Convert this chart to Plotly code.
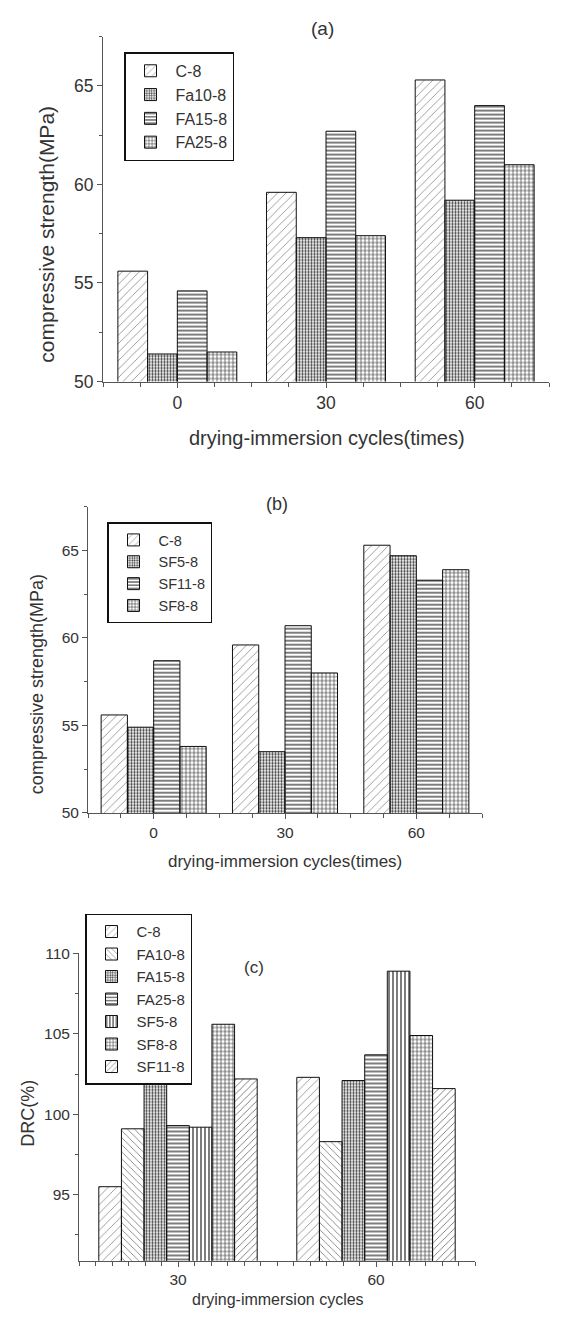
import plotly.graph_objects as go

W, H = 581, 1318

cycles_ab = ["0", "30", "60"]
cycles_c = ["30", "60"]

# Panel (a)
a_names = ["C-8", "Fa10-8", "FA15-8", "FA25-8"]
a_C8 = [55.6, 59.6, 65.3]
a_FA10 = [51.4, 57.3, 59.2]
a_FA15 = [54.6, 62.7, 64.0]
a_FA25 = [51.5, 57.4, 61.0]

# Panel (b)
b_names = ["C-8", "SF5-8", "SF11-8", "SF8-8"]
b_C8 = [55.6, 59.6, 65.3]
b_SF5 = [54.9, 53.5, 64.7]
b_SF11 = [58.7, 60.7, 63.3]
b_SF8 = [53.8, 58.0, 63.9]

# Panel (c)
c_names = ["C-8", "FA10-8", "FA15-8", "FA25-8", "SF5-8", "SF8-8", "SF11-8"]
c_C8 = [95.5, 102.3]
c_FA10 = [99.1, 98.3]
c_FA15 = [102.3, 102.1]
c_FA25 = [99.3, 103.7]
c_SF5 = [99.2, 108.9]
c_SF8 = [105.6, 104.9]
c_SF11 = [102.2, 101.6]

STY = {
    "light_diag": dict(color="#d4d4d4", shape="/", fg="#7a7a7a", size=6, sol=0.12),
    "light_back": dict(color="#d8d8d8", shape="\\", fg="#6a6a6a", size=5, sol=0.15),
    "dark_dot": dict(color="#8a8a8a", shape=".", fg="#3a3a3a", size=3, sol=0.45),
    "hline": dict(color="#f4f4f4", shape="-", fg="#444444", size=4, sol=0.35),
    "vline": dict(color="#f4f4f4", shape="|", fg="#444444", size=4, sol=0.35),
    "grid": dict(color="#dcdcdc", shape="+", fg="#333333", size=4, sol=0.3),
    "light_diag2": dict(color="#d0d0d0", shape="/", fg="#5a5a5a", size=5, sol=0.15),
}

FONT = "Liberation Sans, Arial, sans-serif"
TXT = "#333333"
AX = "#555555"

fig = go.Figure()

def add_bar(x, y, name, style, xa, ya, leg):
    s = STY[style]
    fig.add_trace(go.Bar(
        x=x, y=y, name=name, xaxis=xa, yaxis=ya, legend=leg,
        marker=dict(color=s["color"], line=dict(color="#111111", width=1),
                    pattern=dict(shape=s["shape"], fgcolor=s["fg"], size=s["size"],
                                 solidity=s["sol"], fillmode="replace")),
    ))

xa_idx = [0, 1, 2]
for vals, nm, st in zip([a_C8, a_FA10, a_FA15, a_FA25], a_names,
                        ["light_diag", "dark_dot", "hline", "grid"]):
    add_bar(xa_idx, vals, nm, st, "x", "y", "legend")

for vals, nm, st in zip([b_C8, b_SF5, b_SF11, b_SF8], b_names,
                        ["light_diag", "dark_dot", "hline", "grid"]):
    add_bar(xa_idx, vals, nm, st, "x2", "y2", "legend2")

xc_idx = [0, 1]
for vals, nm, st in zip([c_C8, c_FA10, c_FA15, c_FA25, c_SF5, c_SF8, c_SF11], c_names,
                        ["light_diag", "light_back", "dark_dot", "hline", "vline", "grid", "light_diag2"]):
    add_bar(xc_idx, vals, nm, st, "x3", "y3", "legend3")

def px(x):
    return x / W

def py(y):
    return 1 - y / H

def xax(dom, anchor, rng, vals, text, minor_dt, fsize):
    return dict(domain=[px(dom[0]), px(dom[1])], anchor=anchor, range=rng,
                tickvals=vals, ticktext=text, ticks="outside", ticklen=5, tickcolor=AX,
                showline=True, linecolor=AX, linewidth=1, showgrid=False, zeroline=False,
                tickfont=dict(family=FONT, color=TXT, size=fsize),
                minor=dict(tick0=-0.5, dtick=minor_dt, ticklen=4, ticks="outside", tickcolor=AX))

def yax(dom, anchor, rng, vals, fsize):
    return dict(domain=[py(dom[1]), py(dom[0])], anchor=anchor, range=rng,
                tickvals=vals, ticks="outside", ticklen=5, tickcolor=AX,
                showline=True, linecolor=AX, linewidth=1, showgrid=False, zeroline=False,
                tickfont=dict(family=FONT, color=TXT, size=fsize),
                minor=dict(dtick=2.5, ticklen=3, ticks="outside", tickcolor=AX))

def leg(x, y, size):
    return dict(x=px(x), y=py(y), xanchor="left", yanchor="top",
                bgcolor="white", bordercolor="#111111", borderwidth=1.5,
                font=dict(family=FONT, size=size, color=TXT), tracegroupgap=0,
                itemwidth=40)

fig.update_layout(
    width=W, height=H, margin=dict(l=0, r=0, t=0, b=0),
    paper_bgcolor="white", plot_bgcolor="white",
    barmode="group", bargap=0.2, bargroupgap=0,
    font=dict(family=FONT, color=TXT),
    xaxis=xax((103, 549), "y", [-0.5, 2.5], xa_idx, cycles_ab, 0.25, 17.5),
    yaxis=yax((28, 378), "x", [50, 67.5], [50, 55, 60, 65], 17.5),
    xaxis2=xax((88, 482), "y2", [-0.5, 2.5], xa_idx, cycles_ab, 0.25, 15.5),
    yaxis2=yax((505, 815.7), "x2", [50, 67.5], [50, 55, 60, 65], 15.5),
    xaxis3=xax((79, 475), "y3", [-0.5, 1.5], xc_idx, cycles_c, 1 / 12, 15.5),
    yaxis3=yax((958.3, 1270), "x3", [90.9, 110], [95, 100, 105, 110], 15.5),
    legend=leg(124, 44, 16),
    legend2=leg(107, 521, 14.5),
    legend3=leg(85, 918, 15),
)

annots = [
    ("(a)", 322, 20, 19, 0),
    ("drying-immersion cycles(times)", 327, 435, 20, 0),
    ("compressive strength(MPa)", 47, 229, 21, -90),
    ("(b)", 277, 502, 18, 0),
    ("drying-immersion cycles(times)", 285, 865, 17, 0),
    ("compressive strength(MPa)", 37, 685, 18, -90),
    ("(c)", 254, 973, 17, 0),
    ("drying-immersion cycles", 278, 1309, 16, 0),
    ("DRC(%)", 28, 1121, 18, -90),
]
for text, x, y, size, ang in annots:
    fig.add_annotation(text=text, x=px(x), y=py(y), xref="paper", yref="paper",
                       xanchor="center", yanchor="middle", showarrow=False,
                       textangle=ang, font=dict(family=FONT, size=size, color=TXT))

fig.write_html("out.html", config={"displayModeBar": False},
               post_script="document.body.style.margin='0';document.body.style.overflow='hidden';")
